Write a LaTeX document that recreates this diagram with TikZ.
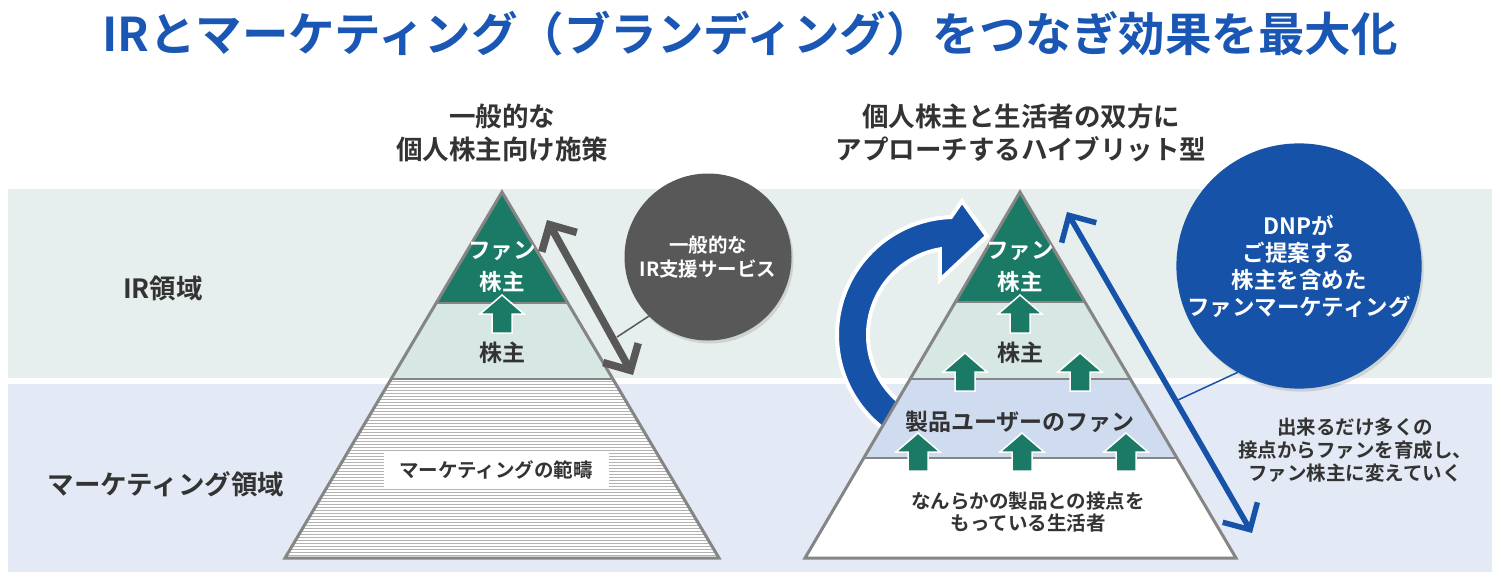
\documentclass[tikz,border=0pt]{standalone}
\usepackage{fontspec}
\setmainfont{Noto Sans CJK JP}[BoldFont={* Bold}]
\usetikzlibrary{arrows.meta,calc,shadows}
\definecolor{irband}{HTML}{E6EFED}
\definecolor{mkband}{HTML}{E4EAF5}
\definecolor{fangreen}{HTML}{1B7A66}
\definecolor{stocklayer}{HTML}{D7E7E4}
\definecolor{prodlayer}{HTML}{CFDBEE}
\definecolor{pyredge}{HTML}{858585}
\definecolor{circgray}{HTML}{585858}
\definecolor{dnpblue}{HTML}{1652A8}
\definecolor{titleblue}{HTML}{1A56B4}
\definecolor{txt}{HTML}{333333}
\begin{document}
\begin{tikzpicture}[x=1pt,y=-1pt,
  titletext/.style={text=titleblue,font=\fontsize{46.5}{50}\selectfont\bfseries,inner sep=0},
  subtext/.style={text=txt,align=center,font=\fontsize{26.5}{33}\selectfont\bfseries,inner sep=0},
  sidelabel/.style={text=txt,font=\fontsize{26.5}{30}\selectfont\bfseries,inner sep=0},
  fantext/.style={text=white,align=center,font=\fontsize{22.5}{32}\selectfont\bfseries,inner sep=0},
  layertext/.style={text=txt,align=center,font=\fontsize{23}{26}\selectfont\bfseries,inner sep=0},
  smalltext/.style={text=txt,align=center,font=\fontsize{19.5}{22}\selectfont\bfseries,inner sep=0},
  edgeline/.style={pyredge,line width=3,line join=miter},
  divline/.style={pyredge,line width=2},
  bubble/.style={circle,text=white,align=center,inner sep=0,
     drop shadow={opacity=0.25,shadow xshift=2pt,shadow yshift=-3pt}},
  uparrow/.pic={\fill[fangreen,draw=white,line width=1.5] (0,0) -- (22,19) -- (10,19) -- (10,38) -- (-10,38) -- (-10,19) -- (-22,19) -- cycle;},
  barbs/.style={{Straight Barb[length=20pt,width=40pt]}-{Straight Barb[length=20pt,width=40pt]}}
]
\useasboundingbox (0,0) rectangle (1501,582);
\fill[white] (0,0) rectangle (1501,582);
% bands
\fill[irband] (8,189) rectangle (1492,378);
\fill[mkband] (8,384) rectangle (1492,572);

% title and subtitles
\node[titletext] (title) at (750,34) {IRとマーケティング（ブランディング）をつなぎ効果を最大化};
\node[subtext] (subL) at (502,133) {一般的な\\個人株主向け施策};
\node[subtext] (subR) at (1021,133) {個人株主と生活者の双方に\\アプローチするハイブリット型};
\node[sidelabel] (irlab) at (163,288) {IR領域};
\node[sidelabel] (mklab) at (166,484) {マーケティング領域};

% ---------- left pyramid ----------
\coordinate (La) at (502,192);
\coordinate (Ll) at (285,558);
\coordinate (Lr) at (719,558);
\fill[fangreen] (La) -- ($(La)!0.3033!(Ll)$) -- ($(La)!0.3033!(Lr)$) -- cycle;
\fill[stocklayer] ($(La)!0.3033!(Ll)$) -- ($(La)!0.511!(Ll)$) -- ($(La)!0.511!(Lr)$) -- ($(La)!0.3033!(Lr)$) -- cycle;
\begin{scope}
  \clip ($(La)!0.511!(Ll)$) -- ($(La)!0.511!(Lr)$) -- (Lr) -- (Ll) -- cycle;
  \fill[white] (280,370) rectangle (725,560);
  \foreach \yy in {381,384,...,558} \draw[gray!60,line width=0.8] (280,\yy) -- (725,\yy);
\end{scope}
\draw[divline] ($(La)!0.3033!(Ll)$) -- ($(La)!0.3033!(Lr)$);
\draw[divline] ($(La)!0.511!(Ll)$) -- ($(La)!0.511!(Lr)$);
\draw[edgeline] (La) -- (Ll) -- (Lr) -- cycle;
\pic (Lar1) at (502,295) {uparrow};
\node[fantext] (Lfan) at (502,267) {ファン\\株主};
\node[layertext] (Lstock) at (502,353) {株主};
\node[fill=white,minimum width=225,minimum height=36,inner sep=0] (Lmkbox) at (496,470) {};
\node[smalltext] (Lmk) at (496,470) {マーケティングの範疇};

% gray double arrow and bubble
\coordinate (ga1) at (547,220);
\coordinate (ga2) at (633,375);
\draw[circgray,line width=7.5,barbs] (ga1) -- (ga2);
\node[bubble,fill=circgray,minimum size=167,font=\fontsize{19.5}{24}\selectfont\bfseries] (gc) at (708,257) {一般的な\\IR支援サービス};
\coordinate (gcx) at (617,337);
\draw[circgray,line width=1.5] (gc.225) -- (gcx);

% ---------- right pyramid ----------
\coordinate (cc) at (955,335);
\fill[dnpblue,draw=white,line width=4,line join=miter]
  ($(cc)+(125:118)$) arc[start angle=125,end angle=268,radius=118]
  -- (962,201) -- (987,236) -- (940,280)
  -- ($(cc)+(260:87)$) arc[start angle=260,end angle=125,radius=87] -- cycle;

\coordinate (Ra) at (1020,192);
\coordinate (Rl) at (805,558);
\coordinate (Rr) at (1236,558);
\fill[fangreen] (Ra) -- ($(Ra)!0.3005!(Rl)$) -- ($(Ra)!0.3005!(Rr)$) -- cycle;
\fill[stocklayer] ($(Ra)!0.3005!(Rl)$) -- ($(Ra)!0.511!(Rl)$) -- ($(Ra)!0.511!(Rr)$) -- ($(Ra)!0.3005!(Rr)$) -- cycle;
\fill[prodlayer] ($(Ra)!0.511!(Rl)$) -- ($(Ra)!0.7268!(Rl)$) -- ($(Ra)!0.7268!(Rr)$) -- ($(Ra)!0.511!(Rr)$) -- cycle;
\fill[white] ($(Ra)!0.7268!(Rl)$) -- (Rl) -- (Rr) -- ($(Ra)!0.7268!(Rr)$) -- cycle;
\draw[divline] ($(Ra)!0.3005!(Rl)$) -- ($(Ra)!0.3005!(Rr)$);
\draw[divline] ($(Ra)!0.511!(Rl)$) -- ($(Ra)!0.511!(Rr)$);
\draw[divline] ($(Ra)!0.7268!(Rl)$) -- ($(Ra)!0.7268!(Rr)$);
\draw[edgeline] (Ra) -- (Rl) -- (Rr) -- cycle;
\pic (Rar1) at (1020,295) {uparrow};
\pic (Rar2) at (965,353) {uparrow};
\pic (Rar3) at (1080,353) {uparrow};
\pic (Rar4) at (918,433) {uparrow};
\pic (Rar5) at (1022,433) {uparrow};
\pic (Rar6) at (1126,433) {uparrow};
\node[fantext] (Rfan) at (1020,267) {ファン\\株主};
\node[layertext] (Rstock) at (1020,353) {株主};
\node[layertext] (Rprod) at (1020,422) {製品ユーザーのファン};
\node[smalltext] (Rlife) at (1028,512) {なんらかの製品との接点を\\もっている生活者};

% blue double arrow and bubble
\coordinate (ba1) at (1067,212);
\coordinate (ba2) at (1252,533);
\draw[dnpblue,line width=5.5,barbs] (ba1) -- (ba2);
\node[bubble,fill=dnpblue,minimum size=242,font=\fontsize{22.5}{27}\selectfont\bfseries] (bc) at (1299,266) {DNPが\\ご提案する\\株主を含めた\\ファンマーケティング};
\coordinate (bcx) at (1178,400);
\draw[dnpblue,line width=1.5] (bc.240) -- (bcx);
\node[text=txt,align=center,font=\fontsize{19.5}{23}\selectfont\bfseries,inner sep=0] (note) at (1355,450) {出来るだけ多くの\\接点からファンを育成し、\\ファン株主に変えていく};
\end{tikzpicture}
\end{document}
